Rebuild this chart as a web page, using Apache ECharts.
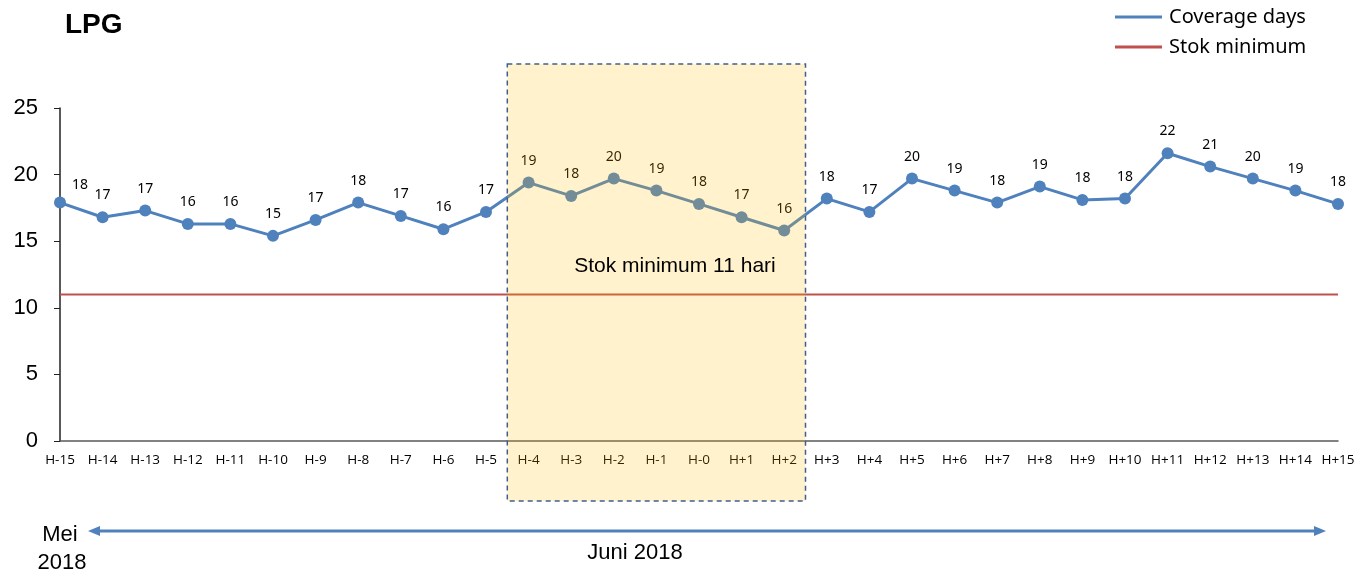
<!DOCTYPE html>
<html>
<head>
<meta charset="utf-8">
<script src="https://cdn.jsdelivr.net/npm/echarts@6/dist/echarts.min.js"></script>
<style>
  html, body { margin: 0; padding: 0; background: #fff; }
  #chart { width: 1358px; height: 575px; }
</style>
</head>
<body>
<div id="chart"></div>
<script>
  // hari relatif terhadap H-0
  const categories = ['H-15', 'H-14', 'H-13', 'H-12', 'H-11', 'H-10', 'H-9', 'H-8', 'H-7', 'H-6', 'H-5',
    'H-4', 'H-3', 'H-2', 'H-1', 'H-0', 'H+1', 'H+2',
    'H+3', 'H+4', 'H+5', 'H+6', 'H+7', 'H+8', 'H+9', 'H+10', 'H+11', 'H+12', 'H+13', 'H+14', 'H+15']
  const coverageDays = [17.9, 16.8, 17.3, 16.3, 16.3, 15.4, 16.6, 17.9, 16.9, 15.9, 17.2,
    19.4, 18.4, 19.7, 18.8, 17.8, 16.8, 15.8,
    18.2, 17.2, 19.7, 18.8, 17.9, 19.1, 18.1, 18.2, 21.6, 20.6, 19.7, 18.8, 17.8]
  const stokMinimum = categories.map(() => 11)
  const yTicks = { min: 0, max: 25, interval: 5 }
  // periode yang disorot
  const highlightFrom = 'H-4'
  const highlightTo = 'H+2'

  const blue = '#4F81BD'
  const red = '#C0504D'

  const chart = echarts.init(document.getElementById('chart'))

  chart.setOption({
    animation: false,
    title: {
      text: 'LPG',
      left: 60,
      top: 6,
      textStyle: { fontFamily: 'Liberation Sans', fontWeight: 'bold', fontSize: 28, color: '#000' },
    },
    legend: {
      orient: 'vertical',
      left: 1110,
      top: 2,
      itemWidth: 47,
      itemHeight: 3,
      itemGap: 10,
      icon: 'rect',
      textStyle: { fontFamily: 'Noto Sans', fontSize: 20, color: '#000', padding: [0, 0, 0, 2] },
      data: ['Coverage days', 'Stok minimum'],
    },
    grid: { left: 60, right: 20, top: 108, bottom: 134 },
    xAxis: {
      type: 'category',
      data: categories,
      boundaryGap: false,
      axisLine: { lineStyle: { color: '#595959', width: 1.5 } },
      axisTick: { show: false },
      axisLabel: {
        interval: 0,
        margin: 12,
        fontFamily: 'Open Sans',
        fontSize: 13.5,
        color: '#000',
      },
    },
    yAxis: {
      type: 'value',
      min: yTicks.min,
      max: yTicks.max,
      interval: yTicks.interval,
      splitLine: { show: false },
      axisLine: { show: true, lineStyle: { color: '#222', width: 1.5 } },
      axisTick: { show: true, length: 6, lineStyle: { color: '#222' } },
      axisLabel: { margin: 22, fontFamily: 'Liberation Sans', fontSize: 22, color: '#000' },
    },
    series: [
      {
        name: 'Coverage days',
        type: 'line',
        data: coverageDays.map((v, i) => (i === 0 ? { value: v, label: { offset: [20, 4] } } : v)),
        color: blue,
        lineStyle: { width: 3 },
        symbol: 'circle',
        symbolSize: 12,
        z: 3,
        label: {
          show: true,
          position: 'top',
          distance: 9,
          fontFamily: 'Noto Sans',
          fontSize: 14,
          color: '#000',
          formatter: (p) => Math.round(p.value),
        },
      },
      {
        name: 'Stok minimum',
        type: 'line',
        data: stokMinimum,
        color: red,
        lineStyle: { width: 2 },
        symbol: 'none',
        z: 2,
      },
    ],
  })

  // kotak sorotan + anotasi, posisi dihitung dari sumbu
  const i0 = categories.indexOf(highlightFrom)
  const i1 = categories.indexOf(highlightTo)
  const px = (c) => chart.convertToPixel({ xAxisIndex: 0 }, c)
  const py = (v) => chart.convertToPixel({ yAxisIndex: 0 }, v)
  const step = px(categories[1]) - px(categories[0])
  const boxLeft = px(categories[i0]) - step / 2
  const boxRight = px(categories[i1]) + step / 2
  const boxTop = py(yTicks.max) - 44
  const boxBottom = py(0) + 60
  const arrowY = 531

  chart.setOption({
    graphic: [
      {
        type: 'rect',
        z: 10,
        shape: { x: boxLeft, y: boxTop, width: boxRight - boxLeft, height: boxBottom - boxTop },
        style: { fill: 'rgba(255,190,0,0.2)', stroke: '#3F5F8F', lineWidth: 1.5, lineDash: [5, 4] },
      },
      {
        type: 'text',
        z: 11,
        x: 675,
        y: py(13.1),
        style: {
          text: 'Stok minimum 11 hari',
          fill: '#000',
          font: '21px "Liberation Sans"',
          textAlign: 'center',
          textVerticalAlign: 'middle',
        },
      },
      {
        type: 'line',
        shape: { x1: 98, y1: arrowY, x2: 1316, y2: arrowY },
        style: { stroke: blue, lineWidth: 3 },
      },
      {
        type: 'polygon',
        shape: { points: [[88, arrowY], [100, arrowY - 5], [100, arrowY + 5]] },
        style: { fill: blue },
      },
      {
        type: 'polygon',
        shape: { points: [[1326, arrowY], [1314, arrowY - 5], [1314, arrowY + 5]] },
        style: { fill: blue },
      },
      {
        type: 'text',
        x: 60,
        y: 535,
        style: { text: 'Mei', fill: '#000', font: '22px "Liberation Sans"', textAlign: 'center', textVerticalAlign: 'middle' },
      },
      {
        type: 'text',
        x: 62,
        y: 563,
        style: { text: '2018', fill: '#000', font: '22px "Liberation Sans"', textAlign: 'center', textVerticalAlign: 'middle' },
      },
      {
        type: 'text',
        x: 635,
        y: 553,
        style: { text: 'Juni 2018', fill: '#000', font: '22px "Liberation Sans"', textAlign: 'center', textVerticalAlign: 'middle' },
      },
    ],
  })
</script>
</body>
</html>
